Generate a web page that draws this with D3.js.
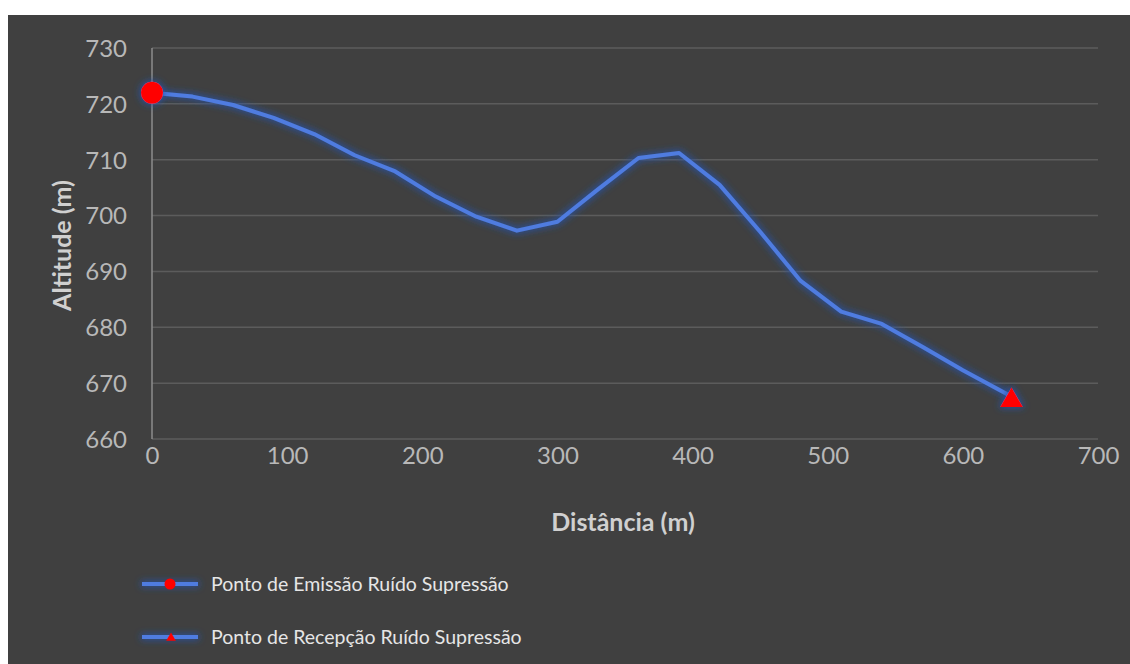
<!DOCTYPE html>
<html><head><meta charset="utf-8">
<script src="https://cdn.jsdelivr.net/npm/d3@7"></script>
<style>
html,body{margin:0;padding:0;background:#fff;}
svg{display:block;}
text{font-family:Lato,"Open Sans",sans-serif;}
</style></head>
<body>
<svg id="c" width="1130" height="664"></svg>
<script>
const distances = [0,30,60,90,120,150,180,210,240,270,300,330,360,390,420,450,480,510,540,570,600,636];
const altitudes = [722.0,721.3,719.8,717.5,714.6,710.8,707.9,703.4,699.8,697.3,698.9,704.7,710.3,711.2,705.5,697.1,688.3,682.8,680.6,676.5,672.3,667.6];
const xTicks = [0,100,200,300,400,500,600,700];
const yTicks = [660,670,680,690,700,710,720,730];
const seriesNames = ["Ponto de Emissão Ruído Supressão","Ponto de Recepção Ruído Supressão"];
const xTitle = "Distância (m)";
const yTitle = "Altitude (m)";

const svg = d3.select("#c");
const defs = svg.append("defs");
function makeGlow(id, user){
  const f = defs.append("filter").attr("id",id);
  if(user){ f.attr("filterUnits","userSpaceOnUse").attr("x",-700).attr("y",-700).attr("width",2500).attr("height",2500); }
  else { f.attr("x","-80%").attr("y","-80%").attr("width","260%").attr("height","260%"); }
  f.append("feMorphology").attr("in","SourceAlpha").attr("operator","dilate").attr("radius",1).attr("result","d");
  f.append("feGaussianBlur").attr("in","d").attr("stdDeviation",3.5).attr("result","b");
  f.append("feFlood").attr("flood-color","#2452a8").attr("flood-opacity",0.9).attr("result","f");
  f.append("feComposite").attr("in","f").attr("in2","b").attr("operator","in").attr("result","g");
  const m = f.append("feMerge");
  m.append("feMergeNode").attr("in","g");
  m.append("feMergeNode").attr("in","SourceGraphic");
}
makeGlow("glowU", true);
makeGlow("glowB", false);

svg.append("rect").attr("x",8).attr("y",15).attr("width",1122).attr("height",649).attr("fill","#404040");

const x = d3.scaleLinear().domain([0,700]).range([152,1098]);
const y = d3.scaleLinear().domain([660,730]).range([439,48]);

// gridlines
svg.append("g").selectAll("line").data(yTicks).join("line")
  .attr("x1",x(0)).attr("x2",x(700)).attr("y1",d=>y(d)).attr("y2",d=>y(d))
  .attr("stroke","#5c5c5c").attr("stroke-width",1.5);
svg.append("line").attr("x1",x(0)).attr("x2",x(0)).attr("y1",y(730)).attr("y2",y(660))
  .attr("stroke","#8c8c8c").attr("stroke-width",1.5);

// axes via d3
const yAxis = svg.append("g").attr("transform",`translate(${x(0)-25},0)`)
  .call(d3.axisLeft(y).tickValues(yTicks).tickSize(0).tickPadding(0));
yAxis.select(".domain").remove();
yAxis.selectAll("text").attr("fill","#b8b8b8").attr("font-size",24).attr("dy","0.35em");

const xAxis = svg.append("g").attr("transform",`translate(0,${y(660)+8})`)
  .call(d3.axisBottom(x).tickValues(xTicks).tickSize(0).tickPadding(0));
xAxis.select(".domain").remove();
xAxis.selectAll("text").attr("fill","#b8b8b8").attr("font-size",24).attr("dy","0.71em");

svg.append("text").attr("x",623).attr("y",531).attr("text-anchor","middle")
  .attr("fill","#d0d0d0").attr("font-size",25).attr("font-weight","bold").text(xTitle);
svg.append("text").attr("transform",`translate(71,${(y(730)+y(660))/2+2}) rotate(-90)`)
  .attr("text-anchor","middle").attr("fill","#d0d0d0").attr("font-size",25).attr("font-weight","bold").text(yTitle);

// line
const data = distances.map((d,i)=>({d, a:altitudes[i]}));
const line = d3.line().x(p=>x(p.d)).y(p=>y(p.a));
svg.append("path").datum(data).attr("d",line).attr("fill","none")
  .attr("stroke","#4f7ce0").attr("stroke-width",4).attr("stroke-linejoin","round").attr("filter","url(#glowU)");

// markers
const first = data[0], last = data[data.length-1];
svg.append("circle").attr("cx",x(first.d)).attr("cy",y(first.a)).attr("r",11)
  .attr("fill","#ff0000").attr("filter","url(#glowB)");
svg.append("path").attr("d",d3.symbol(d3.symbolTriangle, 220)())
  .attr("transform",`translate(${x(last.d)},${y(last.a)+4})`)
  .attr("fill","#ff0000").attr("filter","url(#glowB)");

// legend
const legY = [584,637];
const lg = svg.append("g");
seriesNames.forEach((name,i)=>{
  const g = lg.append("g").attr("transform",`translate(0,${legY[i]})`);
  g.append("line").attr("x1",142).attr("x2",198).attr("y1",0).attr("y2",0)
    .attr("stroke","#4f7ce0").attr("stroke-width",4).attr("filter","url(#glowU)");
  if(i===0){
    g.append("circle").attr("cx",170).attr("cy",0).attr("r",5.5).attr("fill","#ff0000");
  } else {
    g.append("path").attr("d",d3.symbol(d3.symbolTriangle,40)()).attr("transform","translate(171,1)").attr("fill","#ff0000");
  }
  g.append("text").attr("x",211).attr("y",0).attr("dy","0.35em").attr("fill","#e6e6e6")
    .attr("font-size",19.5).text(name);
});
</script>
</body></html>
